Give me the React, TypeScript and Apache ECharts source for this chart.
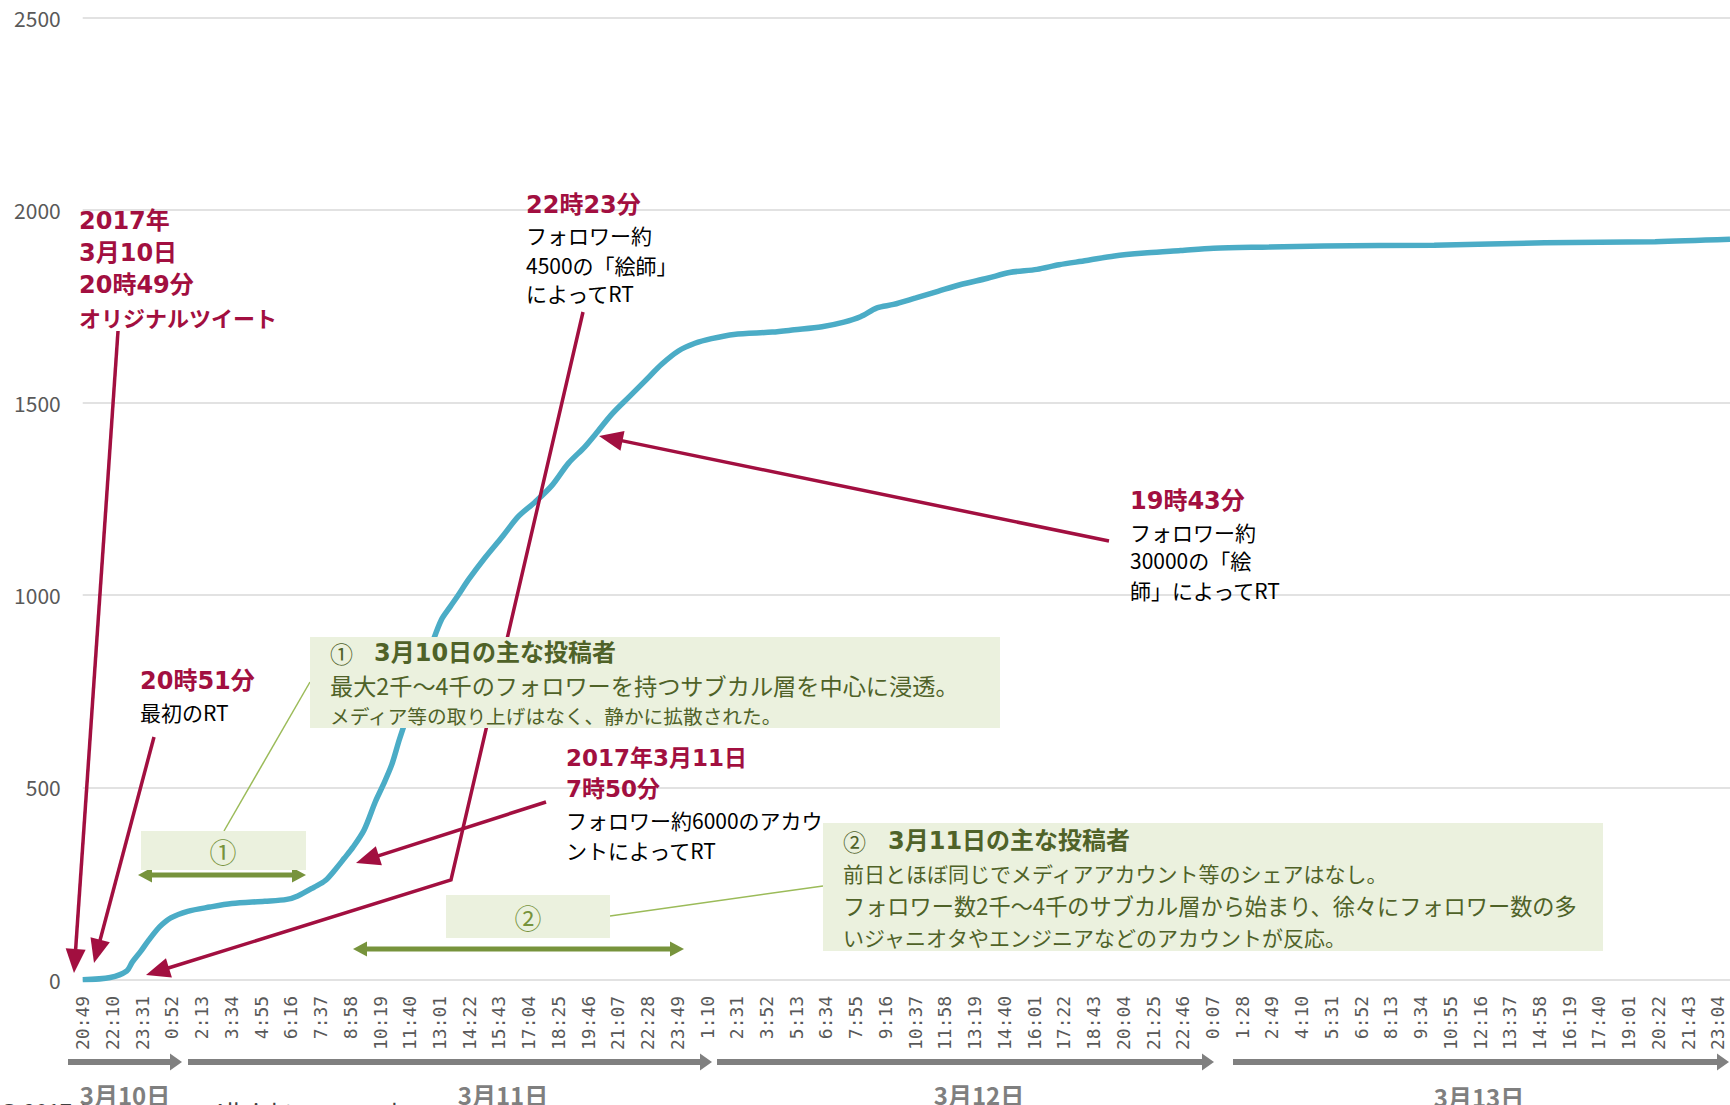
import React, { useEffect, useRef } from "react";
import * as echarts from "echarts";

// minutes elapsed since 2017-03-10 20:49
const minutes = [0, 75, 120, 135, 159, 180, 210, 240, 286, 346, 406, 496, 556, 586, 631, 661, 691, 712, 736, 767, 797, 818, 842, 863, 893, 923, 953, 977, 1001, 1022, 1052, 1097, 1142, 1187, 1232, 1278, 1323, 1368, 1398, 1443, 1488, 1533, 1578, 1623, 1668, 1713, 1774, 1879, 1939, 2014, 2074, 2119, 2164, 2209, 2270, 2330, 2390, 2465, 2525, 2600, 2660, 2735, 2811, 2901, 2991, 3081, 3232, 3382, 3682, 3983, 4284, 4488];
// cumulative retweet counts
const counts = [0, 6, 23, 46, 75, 103, 138, 161, 178, 189, 198, 204, 209, 218, 241, 258, 290, 315, 344, 390, 462, 505, 559, 625, 711, 797, 877, 935, 969, 998, 1041, 1098, 1150, 1204, 1241, 1284, 1342, 1385, 1419, 1471, 1514, 1557, 1600, 1634, 1654, 1666, 1677, 1683, 1689, 1697, 1709, 1723, 1746, 1755, 1772, 1789, 1806, 1823, 1838, 1846, 1858, 1869, 1881, 1889, 1895, 1901, 1904, 1907, 1909, 1915, 1918, 1924];

const startMinuteOfDay = 20 * 60 + 49;
const labelStep = 81;
const xMax = 4488;
const yTicks = [0, 500, 1000, 1500, 2000, 2500];
const dayLabels = ["3月10日", "3月11日", "3月12日", "3月13日"];

const JP = '"Noto Sans CJK JP", "Noto Sans", sans-serif';
const WIDE = '"DejaVu Sans", "Noto Sans CJK JP", sans-serif';
const CRIMSON = "#a20f40";
const OLIVE = "#4f6228";
const GREEN = "#77933c";
const BOXFILL = "#ebf1de";

function fmt(m: number): string {
  if (Math.round(m) % labelStep !== 0) return "";
  const t = (startMinuteOfDay + Math.round(m)) % 1440;
  return `${Math.floor(t / 60)}:${String(t % 60).padStart(2, "0")}`;
}

function arrowEls(pts: number[][], color: string, lw: number, headLen: number, headW: number, z: number, both = false) {
  const els: any[] = [];
  const n = pts.length;
  const shorten = (a: number[], b: number[], d: number) => {
    const dx = b[0] - a[0], dy = b[1] - a[1];
    const L = Math.hypot(dx, dy);
    return [b[0] - (dx / L) * d, b[1] - (dy / L) * d];
  };
  const head = (a: number[], b: number[]) => {
    const dx = b[0] - a[0], dy = b[1] - a[1];
    const L = Math.hypot(dx, dy);
    const ux = dx / L, uy = dy / L;
    const bx = b[0] - ux * headLen, by = b[1] - uy * headLen;
    return {
      type: "polygon",
      z,
      shape: { points: [[b[0], b[1]], [bx - (uy * headW) / 2, by + (ux * headW) / 2], [bx + (uy * headW) / 2, by - (ux * headW) / 2]] },
      style: { fill: color },
    };
  };
  const linePts = pts.map((p) => [p[0], p[1]]);
  linePts[n - 1] = shorten(pts[n - 2], pts[n - 1], headLen * 0.8);
  if (both) linePts[0] = shorten(pts[1], pts[0], headLen * 0.8);
  els.push({ type: "polyline", z, shape: { points: linePts }, style: { stroke: color, lineWidth: lw, fill: null } });
  els.push(head(pts[n - 2], pts[n - 1]));
  if (both) els.push(head(pts[1], pts[0]));
  return els;
}

function txt(text: string, x: number, y: number, size: number, color: string, weight: string = "normal", align: string = "left", z = 120, family = JP) {
  return {
    type: "text",
    x,
    y,
    z,
    style: { text, fill: color, fontSize: size, fontWeight: weight, fontFamily: family, textAlign: align, textVerticalAlign: "middle" },
  };
}

export default function App() {
  const ref = useRef<HTMLDivElement>(null);
  useEffect(() => {
    if (!ref.current) return;
    const chart = echarts.init(ref.current, undefined, { renderer: "svg" });
    const data = minutes.map((m, i) => [m, counts[i]]);

    const graphics: any[] = [
      // crimson annotation arrows
      ...arrowEls([[118, 331], [74, 973]], CRIMSON, 3.5, 24, 20, 50),
      ...arrowEls([[154, 737], [94, 963]], CRIMSON, 3.5, 24, 20, 50),
      ...arrowEls([[583, 312], [451, 880], [146, 975]], CRIMSON, 3.5, 24, 20, 50),
      ...arrowEls([[1109, 541], [599, 436]], CRIMSON, 3.5, 24, 20, 50),
      ...arrowEls([[546, 802], [356, 863]], CRIMSON, 3.5, 24, 20, 50),
      // green span arrows
      ...arrowEls([[138, 875], [306, 875]], GREEN, 5, 14, 15, 60, true),
      ...arrowEls([[353, 949], [684, 949]], GREEN, 5, 14, 15, 60, true),
      // gray day arrows
      ...arrowEls([[68, 1062], [182, 1062]], "#808080", 6, 12, 17, 60),
      ...arrowEls([[188, 1062], [712, 1062]], "#808080", 6, 12, 17, 60),
      ...arrowEls([[717, 1062], [1214, 1062]], "#808080", 6, 12, 17, 60),
      ...arrowEls([[1233, 1062], [1729, 1062]], "#808080", 6, 12, 17, 60),
      // connector lines
      { type: "line", z: 90, shape: { x1: 224, y1: 831, x2: 310, y2: 682 }, style: { stroke: "#9bbb59", lineWidth: 1.5 } },
      { type: "line", z: 90, shape: { x1: 610, y1: 916, x2: 823, y2: 886 }, style: { stroke: "#9bbb59", lineWidth: 1.5 } },
      // boxes
      { type: "rect", z: 100, shape: { x: 310, y: 637, width: 690, height: 91 }, style: { fill: BOXFILL } },
      { type: "rect", z: 100, shape: { x: 823, y: 823, width: 780, height: 128 }, style: { fill: BOXFILL } },
      { type: "rect", z: 100, shape: { x: 141, y: 831, width: 165, height: 39 }, style: { fill: BOXFILL } },
      { type: "rect", z: 100, shape: { x: 446, y: 895, width: 164, height: 43 }, style: { fill: BOXFILL } },
      txt("①", 223, 851, 27, GREEN, "normal", "center"),
      txt("②", 528, 917, 27, GREEN, "normal", "center"),
      // box 1 text
      txt("①", 330, 653, 23, OLIVE, "normal"),
      txt("3月10日の主な投稿者", 374, 653, 24, OLIVE, "bold", "left", 120, WIDE),
      txt("最大2千～4千のフォロワーを持つサブカル層を中心に浸透。", 330, 685, 23.2, OLIVE),
      txt("メディア等の取り上げはなく、静かに拡散された。", 330, 715, 19.7, OLIVE),
      // box 2 text
      txt("②", 843, 841, 23, OLIVE, "normal"),
      txt("3月11日の主な投稿者", 888, 841, 24, OLIVE, "bold", "left", 120, WIDE),
      txt("前日とほぼ同じでメディアアカウント等のシェアはなし。", 843, 873, 21, OLIVE),
      txt("フォロワー数2千～4千のサブカル層から始まり、徐々にフォロワー数の多", 843, 905, 22.2, OLIVE),
      txt("いジャニオタやエンジニアなどのアカウントが反応。", 843, 937, 21, OLIVE),
      // annotation: original tweet
      txt("2017年", 79, 221, 24, CRIMSON, "bold", "left", 120, WIDE),
      txt("3月10日", 79, 253, 24, CRIMSON, "bold", "left", 120, WIDE),
      txt("20時49分", 79, 285, 24, CRIMSON, "bold", "left", 120, WIDE),
      txt("オリジナルツイート", 79, 317, 22, CRIMSON, "bold"),
      // first RT
      txt("20時51分", 140, 681, 24, CRIMSON, "bold", "left", 120, WIDE),
      txt("最初のRT", 140, 712, 21, "#000000"),
      // 22:23
      txt("22時23分", 526, 205, 24, CRIMSON, "bold", "left", 120, WIDE),
      txt("フォロワー約", 526, 235, 21, "#000000"),
      txt("4500の「絵師」", 526, 265, 21, "#000000"),
      txt("によってRT", 526, 293, 21, "#000000"),
      // 19:43
      txt("19時43分", 1130, 501, 24, CRIMSON, "bold", "left", 120, WIDE),
      txt("フォロワー約", 1130, 532, 21, "#000000"),
      txt("30000の「絵", 1130, 560, 21, "#000000"),
      txt("師」によってRT", 1130, 590, 21, "#000000"),
      // 3/11 7:50
      txt("2017年3月11日", 566, 758, 23, CRIMSON, "bold", "left", 120, WIDE),
      txt("7時50分", 566, 789, 23, CRIMSON, "bold", "left", 120, WIDE),
      txt("フォロワー約6000のアカウ", 566, 820, 21, "#000000"),
      txt("ントによってRT", 566, 850, 21, "#000000"),
      // copyright (mostly cut off)
      { type: "text", x: 0, y: 1099, z: 5, style: { text: "© 2017 A                         All rights reserved.", fill: "#404040", fontSize: 22, fontFamily: JP, textVerticalAlign: "top" } },
      // day labels
      txt(dayLabels[0], 125, 1094, 24, "#7f7f7f", "bold", "center", 130),
      txt(dayLabels[1], 503, 1094, 24, "#7f7f7f", "bold", "center", 130),
      txt(dayLabels[2], 979, 1094, 24, "#7f7f7f", "bold", "center", 130),
      txt(dayLabels[3], 1479, 1096, 24, "#7f7f7f", "bold", "center", 130),
    ];

    chart.setOption({
      animation: false,
      backgroundColor: "#ffffff",
      grid: { left: 82.7, right: 0, top: 17.7, bottom: 125.2 },
      xAxis: {
        type: "value",
        min: 0,
        max: xMax,
        interval: labelStep,
        axisLine: { show: false },
        axisTick: { show: false },
        splitLine: { show: false },
        axisLabel: {
          rotate: 90,
          margin: 16,
          fontSize: 18,
          fontFamily: '"DejaVu Sans Mono", monospace',
          color: "#595959",
          showMaxLabel: false,
          formatter: (v: number) => fmt(v),
        },
      },
      yAxis: {
        type: "value",
        min: yTicks[0],
        max: yTicks[yTicks.length - 1],
        interval: 500,
        axisLine: { show: false },
        axisTick: { show: false },
        splitLine: { lineStyle: { color: "#d9d9d9", width: 1.5 } },
        axisLabel: { margin: 22, fontSize: 21, fontFamily: JP, color: "#595959", formatter: (v: number) => String(v) },
      },
      series: [
        {
          type: "line",
          data,
          showSymbol: false,
          smooth: 0.3,
          lineStyle: { color: "#4bacc6", width: 5.5 },
          z: 2,
        },
      ],
      graphic: { elements: graphics },
    });
    return () => chart.dispose();
  }, []);

  return <div ref={ref} style={{ position: "fixed", left: 0, top: 0, width: 1730, height: 1105 }} />;
}
